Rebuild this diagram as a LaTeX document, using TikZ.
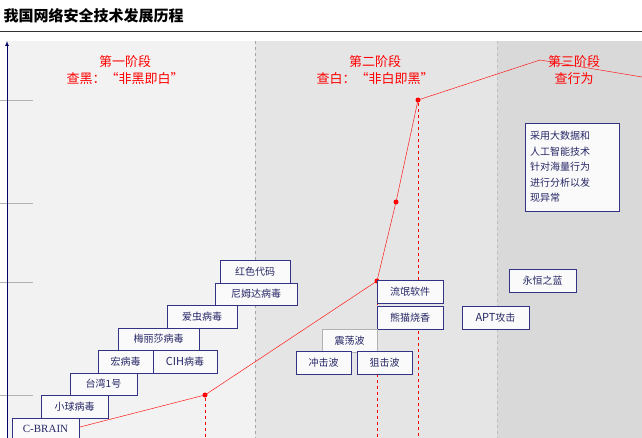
\documentclass[tikz,border=0pt]{standalone}
\usepackage{fontspec}
\setmainfont{Liberation Serif}
\newfontfamily\cjk{Noto Sans CJK SC}
\begin{document}
\begin{tikzpicture}[x=1pt,y=-1pt,
  box/.style={draw=blue!40!black!80, fill=white!96!gray, line width=0.8pt, inner sep=0pt, font=\cjk\fontsize{10}{12}\selectfont, text=blue!30!black!85},
  stage/.style={text=red, font=\cjk\fontsize{13}{17}\selectfont, align=center},
  rline/.style={red!90, line width=0.5pt},
  rdash/.style={red, dashed, line width=0.7pt},
  dot/.style={circle, fill=red, inner sep=0pt, minimum size=5pt}]
\useasboundingbox (0,0) rectangle (642,438);
\fill[white] (0,0) rectangle (642,438);
% title
\node[anchor=west, font=\cjk\bfseries\fontsize{15}{18}\selectfont] (title) at (0,16) {我国网络安全技术发展历程};
\draw[line width=1pt, black!80] (0,32) -- (642,32);
% panels
\fill[gray!10] (8,41) rectangle (255,438);
\fill[gray!20] (255,41) rectangle (497,438);
\fill[gray!30] (497,41) rectangle (642,438);
\draw[dashed, gray!70] (255,41) -- (255,438);
\draw[dashed, gray!50] (497,41) -- (497,438);
% ticks
\foreach \yy in {100,203,282,395} \draw[gray!60] (0,\yy) -- (33,\yy);
\draw[-latex, blue!40!black, line width=0.7pt] (7,438) -- (7,41);
% stages
\node[stage] (s1) at (125,70) {第一阶段\\查黑：“非黑即白”};
\node[stage] (s2) at (375,70) {第二阶段\\查白：“非白即黑”};
\node[stage] (s3) at (574,70) {第三阶段\\查行为};
% red line
\coordinate (p0) at (37,438);
\node[dot] (d1) at (205,395) {};
\node[dot] (d2) at (377,281) {};
\node[dot] (d3) at (396,202) {};
\node[dot] (d4) at (418,100) {};
\coordinate (p5) at (540,60);
\coordinate (p6) at (642,77);
\coordinate (b1) at (205,438);
\coordinate (b2) at (377,438);
\coordinate (b4) at (418,438);
\draw[rline] (p0) -- (d1.center) -- (d2.center) -- (d3.center) -- (d4.center) -- (p5) -- (p6);
\draw[rdash] (d1) -- (b1);
\draw[rdash] (d2) -- (b2);
\draw[rdash] (d4) -- (b4);
% boxes
\node[box, minimum width=67pt, minimum height=22pt, font=\fontsize{11}{12}\selectfont] (cb) at (45.5,429) {C-BRAIN};
\node[box, minimum width=67pt, minimum height=23pt] (xq) at (74.5,406.5) {小球病毒};
\node[box, minimum width=67pt, minimum height=22pt] (tw) at (103.5,384) {台湾1号};
\node[box, minimum width=55pt, minimum height=23pt] (hb) at (125.5,361.5) {宏病毒};
\node[box, minimum width=64pt, minimum height=23pt] (cih) at (185,361.5) {\fontsize{11}{12}\selectfont CIH\cjk\fontsize{10}{12}\selectfont 病毒};
\node[box, minimum width=81pt, minimum height=22pt] (ml) at (158.5,339) {梅丽莎病毒};
\node[box, minimum width=70pt, minimum height=23pt] (ac) at (202,316.5) {爱虫病毒};
\node[box, minimum width=82pt, minimum height=22pt] (nm) at (256,294) {尼姆达病毒};
\node[box, minimum width=70pt, minimum height=23pt] (hs) at (255,271.5) {红色代码};
\node[box, minimum width=66pt, minimum height=23pt] (lm) at (410,291.5) {流氓软件};
\node[box, minimum width=66pt, minimum height=23pt] (xm) at (410,317.5) {熊猫烧香};
\node[box, draw=gray!60, minimum width=55pt, minimum height=23pt] (zd) at (349.5,340.5) {震荡波};
\node[box, minimum width=55pt, minimum height=23pt] (cj) at (323.5,362.5) {冲击波};
\node[box, minimum width=55pt, minimum height=23pt] (jj) at (384.5,362.5) {狙击波};
\node[box, minimum width=67pt, minimum height=23pt] (apt) at (495.5,317.5) {\fontsize{11}{12}\selectfont APT\cjk\fontsize{10}{12}\selectfont 攻击};
\node[box, minimum width=67pt, minimum height=23pt] (yh) at (542.5,280.5) {永恒之蓝};
\node[box, minimum width=94pt, minimum height=88pt, align=left, text width=84pt, inner xsep=5pt, font=\cjk\fontsize{10}{15.5}\selectfont] (tb) at (572,167) {采用大数据和\\人工智能技术\\针对海量行为\\进行分析以发\\现异常};
\end{tikzpicture}
\end{document}
